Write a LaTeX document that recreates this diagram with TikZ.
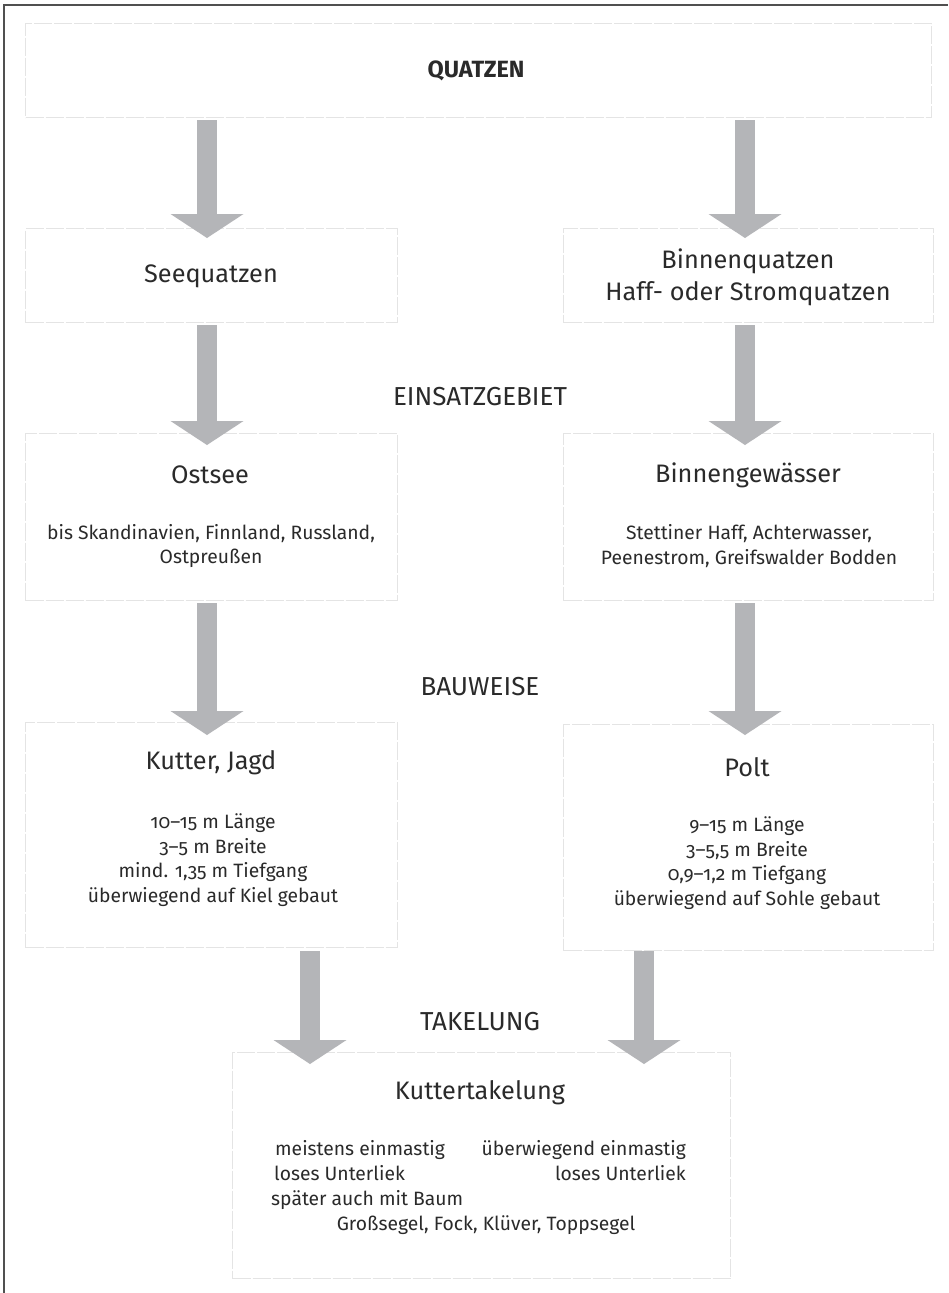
\documentclass[tikz,border=0pt]{standalone}
\usepackage{fontspec}
\setmainfont{Fira Sans}[Numbers=OldStyle]
\usetikzlibrary{arrows.meta}
\definecolor{arrowgray}{HTML}{B4B5B8}
\definecolor{boxline}{HTML}{E4E4E4}
\definecolor{txt}{HTML}{2A2A2A}
\definecolor{framecol}{HTML}{505050}
\begin{document}
\begin{tikzpicture}[x=1pt,y=-1pt,
  box/.style={draw=boxline, line width=1.2pt, dash pattern=on 18pt off 2pt, fill=white, inner sep=0pt, anchor=north west},
  head/.style={text=txt, inner sep=0pt, font=\fontsize{25.3}{28}\selectfont, align=center},
  sub/.style={text=txt, inner sep=0pt, font=\fontsize{19.3}{24.7}\selectfont, align=center},
  lab/.style={text=txt, inner sep=0pt, font=\fontsize{26}{28}\selectfont},
  bline/.style={text=txt, inner sep=0pt, font=\fontsize{19.3}{24.7}\selectfont, text height=1.6ex, text depth=.3ex},
  bigarrow/.style={draw=arrowgray, line width=20pt, -{Triangle[width=73pt,length=24pt,line width=0pt]}}
]
\useasboundingbox (0,0) rectangle (948,1293);
\fill[white] (0,0) rectangle (948,1293);
% frame
\draw[framecol, line width=2.2pt] (4,1293) -- (4,5) -- (948,5);

% boxes
\node[box, minimum width=906pt, minimum height=94pt] (top) at (25,23) {};
\node[box, minimum width=372pt, minimum height=94pt] (seeq) at (25,228) {};
\node[box, minimum width=370pt, minimum height=94pt] (binq) at (563,228) {};
\node[box, minimum width=372pt, minimum height=167pt] (ost) at (25,433) {};
\node[box, minimum width=370pt, minimum height=167pt] (binw) at (563,433) {};
\node[box, minimum width=372pt, minimum height=225pt] (kut) at (25,722) {};
\node[box, minimum width=370pt, minimum height=226pt] (polt) at (563,724) {};
\node[box, minimum width=498pt, minimum height=226pt] (kt) at (232,1052) {};

% texts
\node[head, font=\fontsize{23.5}{26}\selectfont\bfseries] (tQ) at (476,71) {QUATZEN};
\node[head] (tS) at (211,276) {Seequatzen};
\node[head, font=\fontsize{25.3}{31.7}\selectfont] (tB) at (748,277) {Binnenquatzen\\Haff- oder Stromquatzen};
\node[lab] (lE) at (480,397) {EINSATZGEBIET};
\node[head] (tO) at (210,475) {Ostsee};
\node[sub] (sO) at (211,546) {bis Skandinavien, Finnland, Russland,\\Ostpreußen};
\node[head] (tW) at (748,475) {Binnengewässer};
\node[sub] (sW) at (749,546) {Stettiner Haff, Achterwasser,\\Peenestrom, Greifswalder Bodden};
\node[lab] (lB) at (480,687) {BAUWEISE};
\node[head] (tK) at (211,763) {Kutter, Jagd};
\node[sub] (sK) at (213,860) {10–15 m Länge\\3–5 m Breite\\mind. 1,35 m Tiefgang\\überwiegend auf Kiel gebaut};
\node[head] (tP) at (747,767) {Polt};
\node[sub] (sP) at (747,863) {9–15 m Länge\\3–5,5 m Breite\\0,9–1,2 m Tiefgang\\überwiegend auf Sohle gebaut};
\node[lab] (lT) at (480,1022) {TAKELUNG};
\node[head] (tT) at (480,1093) {Kuttertakelung};
\node[bline, anchor=west] (b1) at (275,1152) {meistens einmastig};
\node[bline, anchor=east] (b2) at (686,1152) {überwiegend einmastig};
\node[bline, anchor=west] (b3) at (274,1177) {loses Unterliek};
\node[bline, anchor=east] (b4) at (686,1177) {loses Unterliek};
\node[bline, anchor=west] (b5) at (271,1202) {später auch mit Baum};
\node[bline] (b6) at (486,1227) {Großsegel, Fock, Klüver, Toppsegel};

% arrow endpoints
\coordinate (a1Ls) at (207,120); \coordinate (a1Le) at (207,238);
\coordinate (a1Rs) at (745,120); \coordinate (a1Re) at (745,238);
\coordinate (a2Ls) at (207,325); \coordinate (a2Le) at (207,445);
\coordinate (a2Rs) at (745,325); \coordinate (a2Re) at (745,445);
\coordinate (a3Ls) at (207,603); \coordinate (a3Le) at (207,735);
\coordinate (a3Rs) at (745,603); \coordinate (a3Re) at (745,735);
\coordinate (a4Ls) at (310,951); \coordinate (a4Le) at (310,1064);
\coordinate (a4Rs) at (644,951); \coordinate (a4Re) at (644,1064);

\draw[bigarrow] (a1Ls) -- (a1Le);
\draw[bigarrow] (a1Rs) -- (a1Re);
\draw[bigarrow] (a2Ls) -- (a2Le);
\draw[bigarrow] (a2Rs) -- (a2Re);
\draw[bigarrow] (a3Ls) -- (a3Le);
\draw[bigarrow] (a3Rs) -- (a3Re);
\draw[bigarrow] (a4Ls) -- (a4Le);
\draw[bigarrow] (a4Rs) -- (a4Re);
\end{tikzpicture}
\end{document}
